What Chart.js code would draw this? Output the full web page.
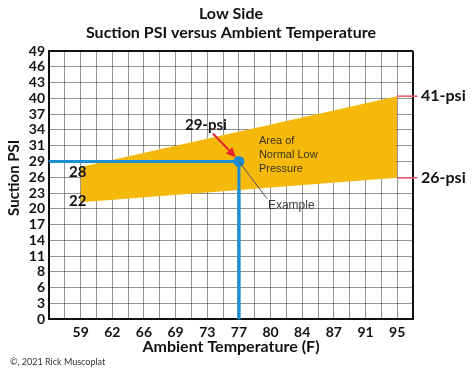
<!DOCTYPE html>
<html>
<head>
<meta charset="utf-8">
<script src="https://cdn.jsdelivr.net/npm/chart.js@4"></script>
<style>
  html, body { margin: 0; padding: 0; background: #fff; }
  #wrap { width: 474px; height: 369px; }
</style>
</head>
<body>
<div id="wrap"><canvas id="chart" width="474" height="369"></canvas></div>
<script>
// tick labels as printed on the chart
const xTickLabels = ['59', '62', '66', '69', '73', '77', '80', '84', '87', '91', '95'];
const yTickLabels = ['0', '3', '6', '8', '11', '14', '17', '20', '23', '26', '29', '31', '34', '37', '40', '43', '46', '49'];

// band of normal low-side pressure (temp F -> psi)
const bandTemps = [59, 95];
const bandUpper = [28, 41];
const bandLower = [21.5, 26];

// worked example
const exampleTemp = 77;
const examplePsi = 29;

// grid: one column = 1.8 F, one row = 2.9 psi
const X_STEP = 1.8, Y_STEP = 2.9;
const xMin = 59 - 2 * X_STEP, xMax = 95 + X_STEP;
const xGrid = [];
for (let i = 0; i <= 23; i++) xGrid.push(+(xMin + i * X_STEP).toFixed(2));
const yGrid = yTickLabels.map((_, i) => +(i * Y_STEP).toFixed(2));
const yMax = yGrid[yGrid.length - 1];

const FONT = 'Lato';
const BAND_COLOR = '#f4b90b';
const BLUE = '#1c8fd4';
const PINK = '#e35d6d';

const isEdge = (ctx, min, max) =>
    ctx.tick && (ctx.tick.value <= min + 0.01 || ctx.tick.value >= max - 0.01);
const gridColor = (ctx, min, max) => isEdge(ctx, min, max) ? '#111' : 'rgba(0,0,0,0.42)';
const gridWidth = (ctx, min, max) => isEdge(ctx, min, max) ? 2 : 1;

// grid sits on top of the band, so the example marks and notes go on after it
const notes = {
    id: 'notes',
    afterDraw(chart) {
        [2, 3, 4, 5].forEach(i => chart.getDatasetMeta(i).controller.draw());

        const { ctx } = chart;
        const x = chart.scales.x, y = chart.scales.y;
        const px = v => x.getPixelForValue(v), py = v => y.getPixelForValue(v);
        ctx.save();
        ctx.textBaseline = 'middle';

        // band end labels
        ctx.fillStyle = '#111';
        ctx.font = `bold 15px ${FONT}`;
        ctx.textAlign = 'center';
        ctx.fillText(String(bandUpper[0]), px(bandTemps[0]) - 3, py(bandUpper[0]) + 5);
        ctx.fillText(String(Math.round(bandLower[0] + 0.5)), px(bandTemps[0]) - 3, py(bandLower[0]) - 1);

        ctx.textAlign = 'left';
        ctx.font = `bold 16px ${FONT}`;
        ctx.fillText(bandUpper[1] + '-psi', chart.chartArea.right + 8, py(bandUpper[1]));
        ctx.fillText(bandLower[1] + '-psi', chart.chartArea.right + 8, py(bandLower[1]));

        // example point callout
        const ex = px(exampleTemp), ey = py(examplePsi);
        ctx.textAlign = 'center';
        ctx.font = `bold 15px ${FONT}`;
        ctx.fillText(examplePsi + '-psi', ex - 33, ey - 36);

        // red arrow from the label to the point
        const tx = ex - 26, ty = ey - 28, hx = ex - 3, hy = ey - 4;
        const ang = Math.atan2(hy - ty, hx - tx);
        const bx = hx - 10 * Math.cos(ang), by = hy - 10 * Math.sin(ang);
        ctx.strokeStyle = '#e8262c';
        ctx.fillStyle = '#e8262c';
        ctx.lineWidth = 2;
        ctx.beginPath();
        ctx.moveTo(tx, ty);
        ctx.lineTo(bx, by);
        ctx.stroke();
        ctx.beginPath();
        ctx.moveTo(hx, hy);
        ctx.lineTo(bx + 4.5 * Math.sin(ang), by - 4.5 * Math.cos(ang));
        ctx.lineTo(bx - 4.5 * Math.sin(ang), by + 4.5 * Math.cos(ang));
        ctx.closePath();
        ctx.fill();

        ctx.strokeStyle = '#555';
        ctx.lineWidth = 1;
        ctx.beginPath();
        ctx.moveTo(ex, ey);
        ctx.lineTo(ex + 28, ey + 37);
        ctx.stroke();

        ctx.fillStyle = '#3d3d3d';
        ctx.font = `12px "Liberation Sans"`;
        ctx.textAlign = 'left';
        ctx.fillText('Example', ex + 29, ey + 44);

        ctx.fillStyle = '#3a3320';
        ctx.font = `11px "Liberation Sans"`;
        ctx.fillText('Area of', ex + 20, ey - 21);
        ctx.fillText('Normal Low', ex + 20, ey - 7);
        ctx.fillText('Pressure', ex + 20, ey + 7);
        ctx.restore();
    }
};

const bandLowerPts = bandTemps.map((t, i) => ({ x: t, y: bandLower[i] }));
const bandUpperPts = bandTemps.map((t, i) => ({ x: t, y: bandUpper[i] }));
const leaderEnd = 97.3;

new Chart(document.getElementById('chart'), {
    type: 'line',
    data: {
        datasets: [
            { data: bandLowerPts, borderWidth: 0, pointRadius: 0, fill: false },
            { data: bandUpperPts, borderWidth: 0, pointRadius: 0, fill: '-1', backgroundColor: BAND_COLOR },
            { data: [{ x: bandTemps[1], y: bandUpper[1] }, { x: leaderEnd, y: bandUpper[1] }],
              borderColor: PINK, borderWidth: 1.2, pointRadius: 0, clip: false },
            { data: [{ x: bandTemps[1], y: bandLower[1] }, { x: leaderEnd, y: bandLower[1] }],
              borderColor: PINK, borderWidth: 1.2, pointRadius: 0, clip: false },
            { data: [{ x: xMin, y: examplePsi }, { x: exampleTemp, y: examplePsi }, { x: exampleTemp, y: 0 }],
              borderColor: BLUE, borderWidth: 3, pointRadius: 0 },
            { data: [{ x: exampleTemp, y: examplePsi }], showLine: false,
              pointRadius: 5.5, backgroundColor: BLUE, borderColor: BLUE, pointBorderWidth: 0 }
        ]
    },
    options: {
        responsive: false,
        animation: false,
        events: [],
        layout: { padding: { left: 10, right: 61, top: 0, bottom: 0 } },
        plugins: {
            legend: { display: false },
            tooltip: { enabled: false },
            title: {
                display: true,
                fullSize: false,
                text: ['Low Side', 'Suction PSI versus Ambient Temperature'],
                color: '#111',
                font: { family: FONT, size: 16, weight: 'bold', lineHeight: 1.19 },
                padding: { top: 4.5, bottom: 8.5 }
            },
            subtitle: {
                display: true,
                position: 'bottom',
                align: 'start',
                text: '©, 2021 Rick Muscoplat',
                color: '#333',
                font: { family: FONT, size: 9, lineHeight: 1.2 },
                padding: { top: 0, bottom: 2 }
            }
        },
        scales: {
            x: {
                type: 'linear',
                z: 1,
                min: xMin,
                max: xMax,
                afterBuildTicks: axis => { axis.ticks = xGrid.map(v => ({ value: v })); },
                afterFit: axis => { axis.height = 37; },
                ticks: {
                    autoSkip: false,
                    maxRotation: 0,
                    padding: 5,
                    color: '#111',
                    font: { family: FONT, size: 14, weight: 'bold' },
                    callback: (v, i) => (i >= 2 && i % 2 === 0) ? xTickLabels[(i - 2) / 2] : ''
                },
                grid: {
                    drawTicks: false,
                    color: c => gridColor(c, xMin, xMax),
                    lineWidth: c => gridWidth(c, xMin, xMax)
                },
                border: { display: true, color: '#111', width: 2 },
                title: {
                    display: true,
                    text: 'Ambient Temperature (F)',
                    color: '#111',
                    font: { family: FONT, size: 16, weight: 'bold', lineHeight: 1.2 },
                    padding: { top: 0, bottom: 0 }
                }
            },
            y: {
                type: 'linear',
                z: 1,
                min: 0,
                max: yMax,
                afterBuildTicks: axis => { axis.ticks = yGrid.map(v => ({ value: v })); },
                afterFit: axis => { axis.width = 39; },
                ticks: {
                    autoSkip: false,
                    padding: 4,
                    color: '#111',
                    font: { family: FONT, size: 14, weight: 'bold' },
                    callback: (v, i) => yTickLabels[i]
                },
                grid: {
                    drawTicks: false,
                    color: c => gridColor(c, 0, yMax),
                    lineWidth: c => gridWidth(c, 0, yMax)
                },
                border: { display: true, color: '#111', width: 2 },
                title: {
                    display: true,
                    text: '    Suction PSI',
                    color: '#111',
                    font: { family: FONT, size: 15, weight: 'bold', lineHeight: 1 },
                    padding: { top: -3, bottom: 0 }
                }
            }
        }
    },
    plugins: [notes]
});
</script>
</body>
</html>
